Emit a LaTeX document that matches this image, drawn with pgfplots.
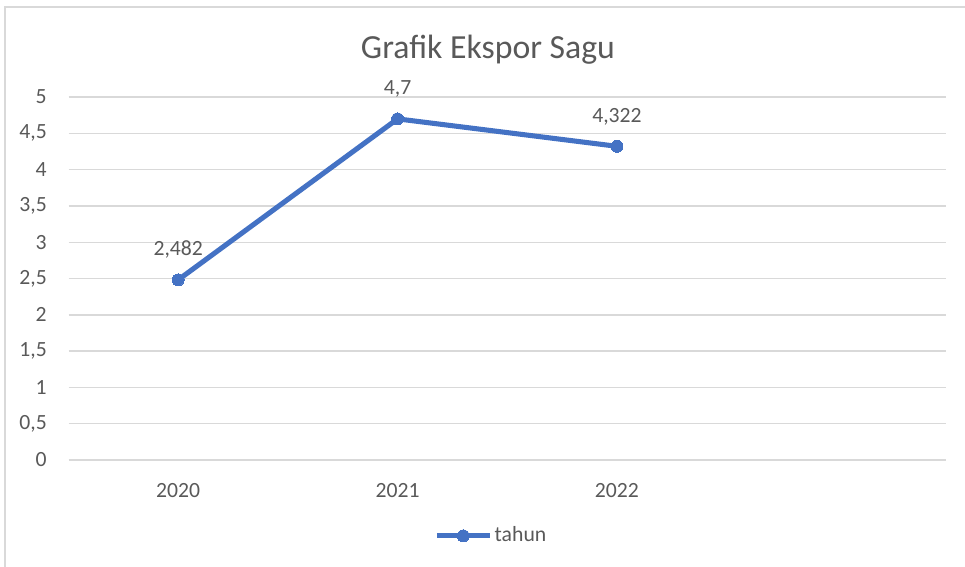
\documentclass[border=0pt]{standalone}
\usepackage{pgfplots}
\pgfplotsset{compat=1.18}
\usepackage{fontspec}
\setmainfont{Carlito}
\definecolor{xlblue}{HTML}{4472C4}
\definecolor{xltext}{HTML}{595959}
\definecolor{xlgrid}{HTML}{D9D9D9}
\begin{document}
\begin{tikzpicture}
\useasboundingbox (0pt,0pt) rectangle (400.5pt,235.3pt);
\draw[xlgrid, line width=0.6pt] (2.1pt,0pt) -- (2.1pt,232.4pt) -- (400.5pt,232.4pt);
\begin{axis}[
  at={(28.43pt,44.4pt)}, anchor=south west,
  scale only axis, width=364.2pt, height=150.6pt,
  xmin=-0.5, xmax=3.5, ymin=0, ymax=5,
  xtick={0,1,2,3}, xticklabels={2020,2021,2022,{}},
  ytick={0,0.5,1,1.5,2,2.5,3,3.5,4,4.5,5},
  /pgf/number format/use comma,
  /pgf/number format/assume math mode=true,
  major tick length=0pt,
  axis line style={draw=none},
  ymajorgrids, grid style={xlgrid, line width=0.6pt},
  tick label style={font=\fontsize{9}{11}\selectfont, text=xltext},
  xticklabel style={yshift=-6pt},
  yticklabel style={xshift=-5.5pt},
  every axis title shift=0pt,
  title={Grafik Ekspor Sagu},
  title style={at={(0.478,1.107)}, anchor=base, font=\fontsize{14}{17}\selectfont, text=xltext},
  clip=false,
  legend style={at={(0.482,-0.209)}, anchor=center, draw=none, fill=none,
    font=\fontsize{9}{11}\selectfont, text=xltext,
    nodes={inner sep=1pt}},
  legend image code/.code={\draw[mark repeat=2,mark phase=2,#1] plot coordinates {(0pt,0pt) (11pt,0pt) (22pt,0pt)};},
  nodes near coords,
  point meta=explicit symbolic,
  every node near coord/.append style={anchor=base, yshift=10pt, font=\fontsize{9}{11}\selectfont, text=xltext},
]
\addplot[xlblue, line width=2.1pt, mark=*, mark size=2.5pt, mark options={fill=xlblue, draw=xlblue, line width=0pt}]
  table[meta=label] {
x y label
0 2.482 {2,482}
1 4.7 {4,7}
2 4.322 {4,322}
};
\addlegendentry{tahun}
\end{axis}
\end{tikzpicture}
\end{document}
